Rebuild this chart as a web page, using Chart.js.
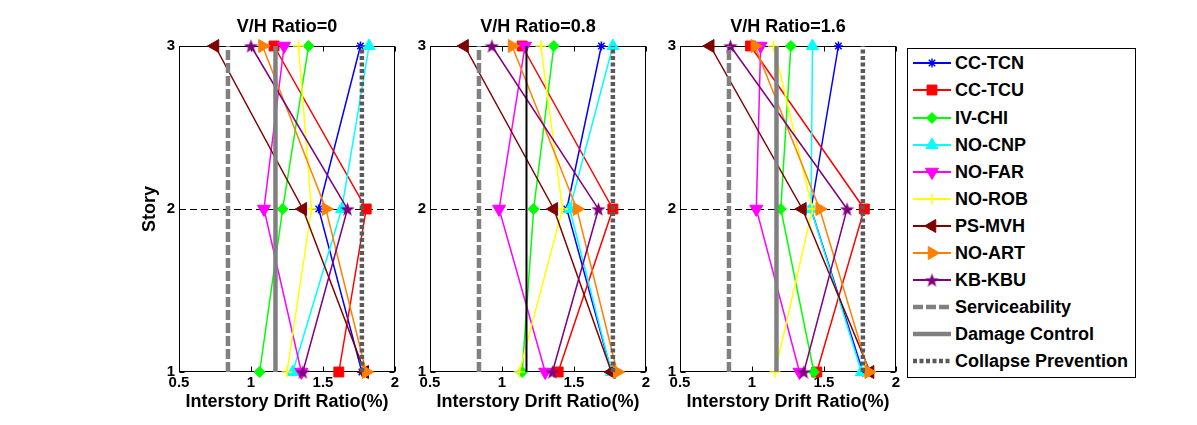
<!DOCTYPE html>
<html>
<head>
<meta charset="utf-8">
<script src="https://cdn.jsdelivr.net/npm/chart.js@4.4.0/dist/chart.umd.min.js"></script>
<style>
html, body { margin:0; padding:0; background:#fff; }
body { width:1197px; height:425px; overflow:hidden; position:relative; font-family:'Liberation Sans', Arial, sans-serif; }
canvas.panel { position:absolute; top:0; }
#legend { position:absolute; left:907px; top:48px; width:229px; height:330px; border:1px solid #000; box-sizing:border-box; background:#fff; }
.row { position:absolute; left:0; height:26px; width:225px; }
.row canvas { position:absolute; left:5px; top:0; }
.row span { position:absolute; left:47px; top:0; line-height:26px; font-size:18px; font-weight:bold; color:#000; white-space:nowrap; }
</style>
</head>
<body>
<div id="legend"></div>
<script>
// ---------------- DATA ----------------
const vhRatios = ['0', '0.8', '1.6'];
const stories = [3, 2, 1];
const storyTicks = [1, 2, 3];
const xTickLabels = ['0.5', '1', '1.5', '2'];
const xTickValues = [0.5, 1, 1.5, 2];
const seriesNames = ['CC-TCN', 'CC-TCU', 'IV-CHI', 'NO-CNP', 'NO-FAR', 'NO-ROB', 'PS-MVH', 'NO-ART', 'KB-KBU'];

// each row: one V/H ratio panel, values for stories [3, 2, 1]
const CC_TCN = [[1.76, 1.47, 1.77], [1.69, 1.45, 1.76], [1.60, 1.41, 1.77]];
const CC_TCU = [[1.16, 1.80, 1.61], [1.14, 1.77, 1.39], [0.99, 1.78, 1.45]];
const IV_CHI = [[1.40, 1.22, 1.06], [1.36, 1.22, 1.14], [1.27, 1.20, 1.43]];
const NO_CNP = [[1.82, 1.63, 1.29], [1.77, 1.47, 1.76], [1.42, 1.41, 1.76]];
const NO_FAR = [[1.23, 1.09, 1.35], [1.16, 0.98, 1.30], [1.06, 1.03, 1.33]];
const NO_ROB = [[1.33, 1.42, 1.25], [1.27, 1.42, 1.12], [1.15, 1.42, 1.16]];
const PS_MVH = [[0.75, 1.36, 1.79], [0.74, 1.36, 1.76], [0.71, 1.35, 1.82]];
const NO_ART = [[1.08, 1.52, 1.80], [1.07, 1.52, 1.80], [1.02, 1.47, 1.81]];
const KB_KBU = [[1.00, 1.67, 1.36], [0.93, 1.67, 1.35], [0.85, 1.66, 1.36]];

const limitNames = ['Serviceability', 'Damage Control', 'Collapse Prevention'];
const serviceability = [0.84, 0.84, 0.84];
const damageControl = [1.17, 1.17, 1.17];
const collapsePrevention = [1.77, 1.77, 1.77];

// ---------------- STYLES / LAYOUT ----------------
const FONT = "'Liberation Sans', Arial, sans-serif";
const seriesData = [CC_TCN, CC_TCU, IV_CHI, NO_CNP, NO_FAR, NO_ROB, PS_MVH, NO_ART, KB_KBU];
const limitData = [serviceability, damageControl, collapsePrevention];

function makeStar(color, size) {
  const c = document.createElement('canvas');
  c.width = size; c.height = size;
  const g = c.getContext('2d');
  g.fillStyle = color;
  g.beginPath();
  const cx = size / 2, cy = size / 2 + 0.8, R = size / 2, r = R * 0.4;
  for (let k = 0; k < 10; k++) {
    const a = -Math.PI / 2 + k * Math.PI / 5;
    const rr = (k % 2) ? r : R;
    g.lineTo(cx + rr * Math.cos(a), cy + rr * Math.sin(a));
  }
  g.closePath();
  g.fill();
  return c;
}
const starImg = makeStar('#800080', 15);

const seriesStyle = [
  { color: '#0000ff', ps: 'star', r: 4.5, rot: 0, pbw: 1.5 },
  { color: '#ff0000', ps: 'rect', r: 7, rot: 0, pbw: 1 },
  { color: '#00ff00', ps: 'rectRot', r: 5.5, rot: 0, pbw: 1 },
  { color: '#00ffff', ps: 'triangle', r: 7, rot: 0, pbw: 1 },
  { color: '#ff00ff', ps: 'triangle', r: 7.5, rot: 180, pbw: 1 },
  { color: '#ffff00', ps: 'cross', r: 5.5, rot: 0, pbw: 1.5 },
  { color: '#800000', ps: 'triangle', r: 7.5, rot: 270, pbw: 1 },
  { color: '#ff8000', ps: 'triangle', r: 7.5, rot: 90, pbw: 1 },
  { color: '#800080', ps: starImg, r: 7, rot: 0, pbw: 1 }
];
const limitStyle = [
  { color: '#808080', dash: [10, 3], lw: 4.5 },
  { color: '#808080', dash: [], lw: 4.5 },
  { color: '#5a5a5a', dash: [4, 2.5], lw: 4.5 }
];
const damageColorPerPanel = ['#808080', '#000000', '#808080'];
const damageWidthPerPanel = [4.5, 2, 4.5];

const panelLefts = [179, 430, 680];
const PLOT_W = 216, Y_W = 50, RIGHT_PAD = 10, TOP_H = 46, BOT_H = 53, H = 425;

const boxPlugin = {
  id: 'boxTicks',
  beforeDatasetsDraw(chart) {
    const { ctx, chartArea } = chart;
    const { left, right, top, bottom } = chartArea;
    const xs = chart.scales.x, ys = chart.scales.y;
    ctx.save();
    ctx.strokeStyle = '#000';
    ctx.lineWidth = 1;
    const L = Math.round(left) + 0.5, R = Math.round(right) - 0.5, T = Math.round(top) + 0.5, B = Math.round(bottom) - 0.5;
    ctx.strokeRect(L, T, R - L, B - T);
    ctx.beginPath();
    xTickValues.forEach(v => {
      const px = Math.round(xs.getPixelForValue(v)) + 0.5;
      ctx.moveTo(px, B); ctx.lineTo(px, B - 5);
      ctx.moveTo(px, T); ctx.lineTo(px, T + 5);
    });
    storyTicks.forEach(v => {
      const py = Math.round(ys.getPixelForValue(v)) + 0.5;
      ctx.moveTo(L, py); ctx.lineTo(L + 5, py);
      ctx.moveTo(R, py); ctx.lineTo(R - 5, py);
    });
    ctx.stroke();
    ctx.restore();
  }
};

function buildPanel(p) {
  const canvas = document.createElement('canvas');
  canvas.className = 'panel';
  canvas.width = Y_W + PLOT_W + RIGHT_PAD;
  canvas.height = H;
  canvas.style.left = (panelLefts[p] - Y_W) + 'px';
  canvas.style.width = canvas.width + 'px';
  canvas.style.height = H + 'px';
  document.body.appendChild(canvas);

  const datasets = [];
  seriesData.forEach((arr, i) => {
    const st = seriesStyle[i];
    datasets.push({
      label: seriesNames[i],
      data: stories.map((s, k) => ({ x: arr[p][k], y: s })),
      showLine: true,
      borderColor: st.color,
      backgroundColor: st.color,
      borderWidth: 1.5,
      pointStyle: st.ps,
      pointRadius: st.r,
      pointRotation: st.rot,
      pointBorderWidth: st.pbw,
      pointBackgroundColor: st.color,
      pointBorderColor: st.color,
      clip: false,
      order: 20 - i
    });
  });
  limitData.forEach((arr, j) => {
    const st = limitStyle[j];
    const color = j === 1 ? damageColorPerPanel[p] : st.color;
    const lw = j === 1 ? damageWidthPerPanel[p] : st.lw;
    datasets.push({
      label: limitNames[j],
      data: [{ x: arr[p], y: storyTicks[0] }, { x: arr[p], y: storyTicks[storyTicks.length - 1] }],
      showLine: true,
      borderColor: color,
      backgroundColor: color,
      borderWidth: lw,
      borderDash: st.dash,
      borderCapStyle: 'butt',
      pointRadius: 0,
      clip: false,
      order: 0
    });
  });

  new Chart(canvas, {
    type: 'scatter',
    data: { datasets },
    options: {
      responsive: false,
      animation: false,
      events: [],
      layout: { padding: { left: 0, right: RIGHT_PAD, top: 0, bottom: 0 } },
      plugins: { legend: { display: false }, tooltip: { enabled: false }, title: { display: false } },
      scales: {
        x: {
          type: 'linear', position: 'bottom', min: 0.5, max: 2,
          afterBuildTicks: s => { s.ticks = xTickValues.map(v => ({ value: v })); },
          ticks: {
            autoSkip: false, maxRotation: 0, padding: 2, color: '#000',
            font: { family: FONT, size: 15, weight: 'bold' },
            callback: (v) => { const i = xTickValues.indexOf(v); return i >= 0 ? xTickLabels[i] : ''; }
          },
          grid: { display: false, drawTicks: false },
          border: { display: false },
          title: { display: true, text: 'Interstory Drift Ratio(%)', color: '#000',
                   font: { family: FONT, size: 18, weight: 'bold' }, padding: { top: 0, bottom: 12 } },
          afterFit: s => { s.height = BOT_H; }
        },
        x2: {
          type: 'linear', position: 'top', min: 0.5, max: 2,
          ticks: { display: false },
          grid: { display: false, drawTicks: false },
          border: { display: false },
          title: { display: true, text: 'V/H Ratio=' + vhRatios[p], color: '#000',
                   font: { family: FONT, size: 18, weight: 'bold' }, padding: { top: 16, bottom: 0 } },
          afterFit: s => { s.height = TOP_H; }
        },
        y: {
          type: 'linear', position: 'left', min: 1, max: 3,
          afterBuildTicks: s => { s.ticks = storyTicks.map(v => ({ value: v })); },
          ticks: { padding: 4, color: '#000', font: { family: FONT, size: 15, weight: 'bold' },
                   callback: v => String(v) },
          grid: {
            display: true, drawTicks: false, lineWidth: 1,
            color: c => (c.tick && c.tick.value === 2) ? '#000' : 'rgba(0,0,0,0)'
          },
          border: { display: false, dash: [7, 4] },
          title: { display: p === 0, text: 'Story', color: '#000',
                   font: { family: FONT, size: 18, weight: 'bold' }, padding: { top: 10, bottom: 0 } },
          afterFit: s => { s.width = Y_W; }
        }
      }
    },
    plugins: [boxPlugin]
  });
}

[0, 1, 2].forEach(buildPanel);

// ---------------- LEGEND ----------------
const legend = document.getElementById('legend');
const legendItems = seriesNames.map((n, i) => ({ name: n, st: seriesStyle[i], kind: 's' }))
  .concat(limitNames.map((n, j) => ({ name: n, st: limitStyle[j], kind: 'l' })));
legendItems.forEach((item, i) => {
  const row = document.createElement('div');
  row.className = 'row';
  row.style.top = (1.3 + 27.1 * i) + 'px';
  const c = document.createElement('canvas');
  c.width = 40; c.height = 26;
  const g = c.getContext('2d');
  const st = item.st;
  g.strokeStyle = st.color;
  g.lineWidth = item.kind === 's' ? 2 : st.lw;
  g.setLineDash(item.kind === 's' ? [] : st.dash);
  g.beginPath(); g.moveTo(0, 13); g.lineTo(38, 13); g.stroke();
  g.setLineDash([]);
  if (item.kind === 's' && Chart.helpers && Chart.helpers.drawPoint) {
    g.fillStyle = st.color; g.strokeStyle = st.color; g.lineWidth = st.pbw;
    Chart.helpers.drawPoint(g, { pointStyle: st.ps, rotation: st.rot, radius: st.r, borderWidth: st.pbw }, 19, 13);
  }
  const sp = document.createElement('span');
  sp.textContent = item.name;
  row.appendChild(c); row.appendChild(sp);
  legend.appendChild(row);
});
</script>
</body>
</html>
